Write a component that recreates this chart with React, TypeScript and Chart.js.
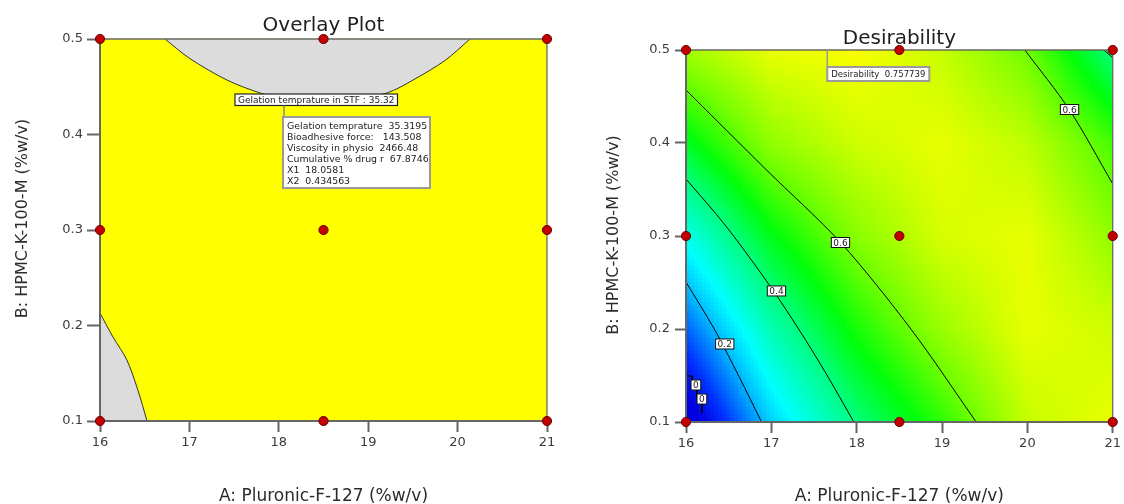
import React, { useEffect, useRef } from 'react';
import { Chart, registerables } from 'chart.js';

Chart.register(...registerables);

const FONT = '"DejaVu Sans", "Noto Sans", sans-serif';

// ---------- axes ----------
const xTicks = [16, 17, 18, 19, 20, 21];
const xTickLabels = ['16', '17', '18', '19', '20', '21'];
const yTicks = [0.1, 0.2, 0.3, 0.4, 0.5];
const yTickLabels = ['0.1', '0.2', '0.3', '0.4', '0.5'];
const xTitle = 'A: Pluronic-F-127 (%w/v)';
const yTitle = 'B: HPMC-K-100-M (%w/v)';

// ---------- design points ----------
const designX = [16, 16, 16, 18.5, 18.5, 18.5, 21, 21, 21];
const designY = [0.1, 0.3, 0.5, 0.1, 0.3, 0.5, 0.1, 0.3, 0.5];

// ---------- overlay plot ----------
const overlayTitle = 'Overlay Plot';
const grayTopX = [16.727, 17.007, 17.421, 17.79, 18.125, 18.461, 18.796, 19.21, 19.501, 19.859, 20.139];
const grayTopY = [0.5, 0.4794, 0.457, 0.4435, 0.4357, 0.4337, 0.4361, 0.4435, 0.457, 0.4775, 0.5];
const grayBottomX = [16, 16.145, 16.3, 16.425, 16.526];
const grayBottomY = [0.213, 0.188, 0.164, 0.132, 0.1];
const overlayFlagX = 18.0581;
const overlayFlagY = 0.434563;
const overlayContourLabel = 'Gelation temprature in STF : 35.32';
const overlayFlagLines = [
  'Gelation temprature  35.3195',
  'Bioadhesive force:   143.508',
  'Viscosity in physio  2466.48',
  'Cumulative % drug r  67.8746',
  'X1  18.0581',
  'X2  0.434563',
];

// ---------- desirability plot ----------
const desirTitle = 'Desirability';
const desirGridX = [16, 17, 18, 19, 20, 21];
const desirGridY = [0.1, 0.2, 0.3, 0.4, 0.5];
const desirRowY01 = [-0.05, 0.22, 0.405, 0.54, 0.7, 0.74];
const desirRowY02 = [0.12, 0.35, 0.52, 0.65, 0.74, 0.71];
const desirRowY03 = [0.29, 0.49, 0.63, 0.72, 0.74, 0.64];
const desirRowY04 = [0.48, 0.64, 0.71, 0.74, 0.69, 0.56];
const desirRowY05 = [0.66, 0.74, 0.76, 0.7, 0.6, 0.4];
const desirGrid = [desirRowY01, desirRowY02, desirRowY03, desirRowY04, desirRowY05];

const contour0X = [16, 16.07, 16.07, 16.128, 16.128, 16.186, 16.186];
const contour0Y = [0.1495, 0.1495, 0.1387, 0.1387, 0.1258, 0.1258, 0.1097];
const contour02X = [16, 16.338, 16.62, 16.885];
const contour02Y = [0.2505, 0.1989, 0.149, 0.1];
const contour04X = [16, 16.466, 17.001, 17.327, 17.63, 17.967];
const contour04Y = [0.3613, 0.3109, 0.2441, 0.1989, 0.1538, 0.1];
const contour06aX = [16, 16.943, 17.816, 18.643, 19.4];
const contour06aY = [0.457, 0.371, 0.2925, 0.199, 0.1];
const contour06bX = [19.97, 20.494, 20.994];
const contour06bY = [0.5, 0.4355, 0.357];
const contourCornerX = [20.9, 21];
const contourCornerY = [0.4997, 0.4916];
const contourLabelX = [16.454, 16.116, 16.186, 17.06, 17.81, 20.494];
const contourLabelY = [0.1839, 0.1398, 0.1247, 0.2409, 0.293, 0.436];
const contourLabelText = ['0.2', '0', '0', '0.4', '0.6', '0.6'];
const desirFlagX = 17.655;
const desirFlagY = 0.5;
const desirFlagText = 'Desirability  0.757739';

// colour ramp (style)
const colorStops: number[][] = [
  [0, 0, 0, 225],
  [0.08, 0, 50, 255],
  [0.2, 0, 190, 255],
  [0.27, 0, 255, 255],
  [0.4, 0, 255, 130],
  [0.5, 0, 255, 10],
  [0.6, 110, 255, 0],
  [0.76, 250, 255, 0],
];

function rampColor(v: number): string {
  if (v <= colorStops[0][0]) return `rgb(${colorStops[0][1]},${colorStops[0][2]},${colorStops[0][3]})`;
  for (let i = 0; i < colorStops.length - 1; i++) {
    const a = colorStops[i];
    const b = colorStops[i + 1];
    if (v <= b[0]) {
      const t = (v - a[0]) / (b[0] - a[0]);
      const r = Math.round(a[1] + (b[1] - a[1]) * t);
      const g = Math.round(a[2] + (b[2] - a[2]) * t);
      const bl = Math.round(a[3] + (b[3] - a[3]) * t);
      return `rgb(${r},${g},${bl})`;
    }
  }
  const l = colorStops[colorStops.length - 1];
  return `rgb(${l[1]},${l[2]},${l[3]})`;
}

function findCell(arr: number[], v: number): [number, number] {
  let i = 0;
  while (i < arr.length - 2 && v > arr[i + 1]) i++;
  let t = (v - arr[i]) / (arr[i + 1] - arr[i]);
  t = Math.max(0, Math.min(1, t));
  return [i, t];
}

function sampleDesir(x: number, y: number): number {
  const [i, tx] = findCell(desirGridX, x);
  const [j, ty] = findCell(desirGridY, y);
  const v00 = desirGrid[j][i];
  const v10 = desirGrid[j][i + 1];
  const v01 = desirGrid[j + 1][i];
  const v11 = desirGrid[j + 1][i + 1];
  return v00 * (1 - tx) * (1 - ty) + v10 * tx * (1 - ty) + v01 * (1 - tx) * ty + v11 * tx * ty;
}

const pts = (xs: number[], ys: number[]) => xs.map((x, i) => ({ x, y: ys[i] }));

function makeScales(yAxisWidth: number, xAxisHeight: number, yTickLen: number, yTickPad: number) {
  return {
    x: {
      type: 'linear',
      min: 16,
      max: 21,
      afterBuildTicks: (s: any) => {
        s.ticks = xTicks.map((v) => ({ value: v }));
      },
      afterFit: (s: any) => {
        s.height = xAxisHeight;
      },
      ticks: {
        autoSkip: false,
        maxRotation: 0,
        padding: 3,
        color: '#3c3c3c',
        font: { family: FONT, size: 13 },
        callback: (_v: any, i: number) => xTickLabels[i],
      },
      grid: { display: true, drawOnChartArea: false, drawTicks: true, tickLength: 11, tickColor: '#666', tickWidth: 2 },
      border: { display: false },
    },
    y: {
      type: 'linear',
      min: 0.1,
      max: 0.5,
      afterBuildTicks: (s: any) => {
        s.ticks = yTicks.map((v) => ({ value: v }));
      },
      afterFit: (s: any) => {
        s.width = yAxisWidth;
      },
      ticks: {
        autoSkip: false,
        padding: yTickPad,
        color: '#3c3c3c',
        font: { family: FONT, size: 13 },
        callback: (_v: any, i: number) => yTickLabels[i],
      },
      grid: { display: true, drawOnChartArea: false, drawTicks: true, tickLength: yTickLen, tickColor: '#666', tickWidth: 2 },
      border: { display: false },
    },
  };
}

function framePlugin(pointsIndex: number) {
  return {
    id: 'frame',
    beforeDatasetDraw(chart: any, args: any) {
      if (args.index !== pointsIndex) return;
      const { ctx, chartArea: a } = chart;
      ctx.save();
      ctx.strokeStyle = '#6a6a60';
      ctx.lineWidth = 1.3;
      ctx.beginPath();
      ctx.moveTo(a.left, a.top);
      ctx.lineTo(a.right, a.top);
      ctx.lineTo(a.right, a.bottom);
      ctx.stroke();
      ctx.strokeStyle = '#666';
      ctx.lineWidth = 2;
      ctx.beginPath();
      ctx.moveTo(a.left, a.top);
      ctx.lineTo(a.left, a.bottom);
      ctx.lineTo(a.right, a.bottom);
      ctx.stroke();
      ctx.restore();
    },
  };
}

function textPlugin(title: string, titleGap: number, yTitleOffsetX: number, yTitleShiftY: number) {
  return {
    id: 'texts',
    afterDraw(chart: any) {
      const { ctx, chartArea: a } = chart;
      ctx.save();
      ctx.fillStyle = '#1e1e1e';
      ctx.textAlign = 'center';
      ctx.textBaseline = 'alphabetic';
      ctx.font = `20px ${FONT}`;
      ctx.fillText(title, (a.left + a.right) / 2, a.top - titleGap);
      ctx.fillStyle = '#2c2c2c';
      ctx.font = `17px ${FONT}`;
      ctx.fillText(xTitle, (a.left + a.right) / 2, 501);
      ctx.translate(a.left - yTitleOffsetX, (a.top + a.bottom) / 2 + yTitleShiftY);
      ctx.rotate(-Math.PI / 2);
      ctx.font = `16px ${FONT}`;
      ctx.fillText(yTitle, 0, 0);
      ctx.restore();
    },
  };
}

function pointsDataset() {
  return {
    type: 'scatter',
    data: pts(designX, designY),
    pointRadius: 4.6,
    pointBackgroundColor: '#c20000',
    pointBorderColor: '#6a0000',
    pointBorderWidth: 1,
    showLine: false,
    clip: false,
    order: 0,
  };
}

function overlayConfig(): any {
  const backgroundPlugin = {
    id: 'bg',
    beforeDatasetsDraw(chart: any) {
      const { ctx, chartArea: a } = chart;
      ctx.save();
      ctx.fillStyle = '#ffff00';
      ctx.fillRect(a.left, a.top, a.right - a.left, a.bottom - a.top);
      ctx.restore();
    },
  };
  const annotationPlugin = {
    id: 'annot',
    afterDatasetsDraw(chart: any) {
      const { ctx, scales } = chart;
      const px = scales.x.getPixelForValue(overlayFlagX);
      const py = scales.y.getPixelForValue(overlayFlagY);
      ctx.save();
      ctx.font = `9px ${FONT}`;
      const w1 = ctx.measureText(overlayContourLabel).width + 6;
      const b1x = px - 49;
      const b1y = py - 7.5;
      const b1h = 11.5;
      ctx.fillStyle = '#fff';
      ctx.fillRect(b1x, b1y, w1, b1h);
      ctx.strokeStyle = '#222';
      ctx.lineWidth = 1.2;
      ctx.strokeRect(b1x, b1y, w1, b1h);
      ctx.fillStyle = '#222';
      ctx.textBaseline = 'middle';
      ctx.textAlign = 'left';
      ctx.fillText(overlayContourLabel, b1x + 3, b1y + b1h / 2 + 0.5);
      // connector
      const b2y = py + 15.5;
      ctx.strokeStyle = '#8a8a8a';
      ctx.lineWidth = 1.5;
      ctx.beginPath();
      ctx.moveTo(px, b1y + b1h);
      ctx.lineTo(px, b2y);
      ctx.stroke();
      // info box
      const b2x = px - 1;
      const b2w = 147;
      const b2h = 71;
      ctx.fillStyle = '#fff';
      ctx.fillRect(b2x, b2y, b2w, b2h);
      ctx.strokeStyle = '#9a9a9a';
      ctx.lineWidth = 2;
      ctx.strokeRect(b2x, b2y, b2w, b2h);
      ctx.fillStyle = '#222';
      ctx.font = `9.4px ${FONT}`;
      overlayFlagLines.forEach((line, i) => {
        ctx.fillText(line, b2x + 4, b2y + 10 + i * 11);
      });
      ctx.restore();
    },
  };
  return {
    type: 'scatter',
    data: {
      datasets: [
        pointsDataset(),
        {
          type: 'line',
          data: pts(grayTopX, grayTopY),
          borderColor: '#333',
          borderWidth: 1,
          backgroundColor: '#dcdcdc',
          fill: 'end',
          pointRadius: 0,
          tension: 0.3,
          order: 1,
        },
        {
          type: 'line',
          data: pts(grayBottomX, grayBottomY),
          borderColor: '#333',
          borderWidth: 1,
          backgroundColor: '#dcdcdc',
          fill: 'start',
          pointRadius: 0,
          tension: 0.3,
          order: 1,
        },
      ],
    },
    options: {
      responsive: false,
      animation: false,
      devicePixelRatio: 1,
      events: [],
      layout: { padding: { left: 0, top: 39, right: 43, bottom: 0 } },
      plugins: { legend: { display: false }, tooltip: { enabled: false }, title: { display: false } },
      scales: makeScales(100, 83, 13, 4),
    },
    plugins: [backgroundPlugin, framePlugin(0), annotationPlugin, textPlugin(overlayTitle, 8, 73, -11.5)],
  };
}

function desirConfig(): any {
  const heatPlugin = {
    id: 'heat',
    beforeDatasetsDraw(chart: any) {
      const { ctx, chartArea: a, scales } = chart;
      const cell = 4;
      ctx.save();
      for (let px = a.left; px < a.right; px += cell) {
        for (let py = a.top; py < a.bottom; py += cell) {
          const vx = scales.x.getValueForPixel(px + cell / 2);
          const vy = scales.y.getValueForPixel(py + cell / 2);
          ctx.fillStyle = rampColor(sampleDesir(vx, vy));
          ctx.fillRect(px, py, Math.min(cell, a.right - px), Math.min(cell, a.bottom - py));
        }
      }
      ctx.restore();
    },
  };
  const labelsPlugin = {
    id: 'clabels',
    afterDatasetsDraw(chart: any) {
      const { ctx, scales } = chart;
      ctx.save();
      ctx.font = `9px ${FONT}`;
      ctx.textAlign = 'center';
      ctx.textBaseline = 'middle';
      contourLabelText.forEach((t, i) => {
        const cx = scales.x.getPixelForValue(contourLabelX[i]);
        const cy = scales.y.getPixelForValue(contourLabelY[i]);
        const w = ctx.measureText(t).width + 4;
        const h = 10;
        ctx.fillStyle = '#fff';
        ctx.fillRect(cx - w / 2, cy - h / 2, w, h);
        ctx.strokeStyle = '#111';
        ctx.lineWidth = 1;
        ctx.strokeRect(cx - w / 2, cy - h / 2, w, h);
        ctx.fillStyle = '#222';
        ctx.fillText(t, cx, cy + 1);
      });
      // flag
      const fx = scales.x.getPixelForValue(desirFlagX);
      const fy = scales.y.getPixelForValue(desirFlagY);
      ctx.strokeStyle = '#999';
      ctx.lineWidth = 1.5;
      ctx.beginPath();
      ctx.moveTo(fx, fy);
      ctx.lineTo(fx, fy + 17);
      ctx.stroke();
      ctx.font = `8.5px ${FONT}`;
      const bw = ctx.measureText(desirFlagText).width + 8;
      const bh = 14;
      ctx.fillStyle = '#fff';
      ctx.fillRect(fx, fy + 17, bw, bh);
      ctx.strokeStyle = '#9a9a9a';
      ctx.lineWidth = 2;
      ctx.strokeRect(fx, fy + 17, bw, bh);
      ctx.fillStyle = '#222';
      ctx.textAlign = 'left';
      ctx.fillText(desirFlagText, fx + 4, fy + 17 + bh / 2 + 0.5);
      ctx.restore();
    },
  };
  const line = (xs: number[], ys: number[], tension: number) => ({
    type: 'line',
    data: pts(xs, ys),
    borderColor: '#000',
    borderWidth: 1,
    fill: false,
    pointRadius: 0,
    tension,
    order: 1,
  });
  return {
    type: 'scatter',
    data: {
      datasets: [
        pointsDataset(),
        line(contour0X, contour0Y, 0),
        line(contour02X, contour02Y, 0.3),
        line(contour04X, contour04Y, 0.3),
        line(contour06aX, contour06aY, 0.3),
        line(contour06bX, contour06bY, 0.3),
        line(contourCornerX, contourCornerY, 0),
      ],
    },
    options: {
      responsive: false,
      animation: false,
      devicePixelRatio: 1,
      events: [],
      layout: { padding: { left: 0, top: 50, right: 8.5, bottom: 0 } },
      plugins: { legend: { display: false }, tooltip: { enabled: false }, title: { display: false } },
      scales: makeScales(96, 82, 11, 5),
    },
    plugins: [heatPlugin, framePlugin(0), labelsPlugin, textPlugin(desirTitle, 6, 68, -1)],
  };
}

export default function App() {
  const leftRef = useRef<HTMLCanvasElement>(null);
  const rightRef = useRef<HTMLCanvasElement>(null);
  useEffect(() => {
    document.body.style.margin = '0';
    const c1 = new Chart(leftRef.current as HTMLCanvasElement, overlayConfig());
    const c2 = new Chart(rightRef.current as HTMLCanvasElement, desirConfig());
    return () => {
      c1.destroy();
      c2.destroy();
    };
  }, []);
  return (
    <div style={{ position: 'relative', width: 1124, height: 504, background: '#fff', overflow: 'hidden' }}>
      <canvas
        ref={leftRef}
        width={590}
        height={504}
        style={{ position: 'absolute', left: 0, top: 0, width: 590, height: 504 }}
      />
      <canvas
        ref={rightRef}
        width={534}
        height={504}
        style={{ position: 'absolute', left: 590, top: 0, width: 534, height: 504 }}
      />
    </div>
  );
}
